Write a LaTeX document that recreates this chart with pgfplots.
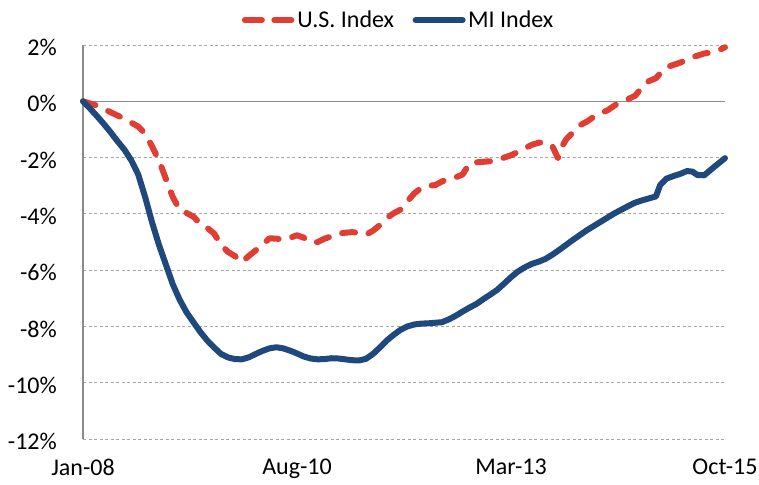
\documentclass[border=0pt]{standalone}
\usepackage{fontspec}
\setmainfont{Carlito}
\usepackage{pgfplots}
\pgfplotsset{compat=1.18}
\definecolor{usred}{RGB}{224,62,50}
\definecolor{miblue}{RGB}{31,73,125}
\definecolor{gridgray}{RGB}{166,166,166}
\definecolor{axgray}{RGB}{140,140,140}
\begin{document}
\begin{tikzpicture}[font=\fontsize{24bp}{28bp}\selectfont]
\begin{axis}[
  at={(83bp,46bp)}, anchor=south west,
  scale only axis, width=642bp, height=394bp,
  xmin=0, xmax=93, ymin=-12, ymax=2,
  clip=false,
  axis lines*=left,
  x axis line style={draw=none},
  y axis line style={draw=axgray, line width=1.3bp},
  major tick length=0pt,
  xtick={0,31,62,93},
  xticklabels={Jan-08,Aug-10,Mar-13,Oct-15},
  ytick={-12,-10,-8,-6,-4,-2,2},
  yticklabels={-12\%,-10\%,-8\%,-6\%,-4\%,-2\%,2\%},
  extra y ticks={0},
  extra y tick labels={0\%},
  extra y tick style={grid style={solid, draw=axgray, line width=1.2bp}},
  ymajorgrids,
  grid style={draw=gridgray, line width=0.9bp, dash pattern=on 3bp off 2.5bp},
  xticklabel style={anchor=north, inner sep=0pt, yshift=-20bp},
  yticklabel style={anchor=east, inner sep=0pt, xshift=-26bp, yshift=-2.5bp},
  legend columns=2,
  legend style={draw=none, fill=none, at={(0.492,1.063)}, anchor=center,
    /tikz/every even column/.append style={column sep=16bp},
    nodes={inner sep=2.5bp}},
  legend image code/.code={\draw[#1] (0bp,0bp) -- (47bp,0bp);},
]
\addplot[usred, line width=6bp, line cap=round, line join=round, dash pattern=on 13bp off 14bp,
  legend image code/.code={\draw[usred, line width=6bp, line cap=round, dash pattern=on 17bp off 12.5bp] (0bp,0bp) -- (47bp,0bp);}] coordinates {
(0,0) (2,-0.15) (4,-0.39) (6,-0.62) (8,-0.9) (9,-1.15) (10,-1.6) (11,-2.1)
(12,-2.75) (13,-3.4) (14,-3.85) (15,-3.97) (16,-4.1) (17,-4.35) (18,-4.5)
(19,-4.7) (20,-5.1) (21,-5.35) (22,-5.5) (23,-5.72) (24,-5.5) (25,-5.3)
(26,-5.1) (27,-4.87) (28,-4.88) (29,-4.92) (30,-4.85) (31,-4.76) (32,-4.85)
(33,-5.02) (34,-5.0) (35,-4.88) (36,-4.8) (37,-4.7) (38,-4.67) (39,-4.65)
(40,-4.68) (41,-4.74) (42,-4.6) (43,-4.4) (44,-4.15) (45,-3.98) (46,-3.85)
(47,-3.55) (48,-3.27) (49,-3.08) (50,-3.0) (51,-2.98) (52,-2.85) (53,-2.74)
(54,-2.7) (55,-2.6) (56,-2.2) (57,-2.17) (58,-2.15) (59,-2.13) (60,-2.1)
(61,-2.0) (62,-1.92) (63,-1.8) (64,-1.67) (65,-1.55) (66,-1.47) (67,-1.46)
(68,-1.6) (68.8,-2.02) (69.5,-1.56) (70,-1.35) (71,-1.1) (72,-0.85) (73,-0.72)
(74,-0.55) (75,-0.42) (76,-0.32) (77,-0.15) (78,-0.02) (79,0.08) (80,0.2)
(81,0.5) (82,0.72) (83,0.82) (84,1.1) (85,1.25) (86,1.33) (87,1.42)
(88,1.55) (89,1.62) (90,1.7) (91,1.73) (92,1.8) (93,1.92)
};
\addlegendentry{U.S. Index}
\addplot[miblue, line width=6bp, line cap=round, line join=round] coordinates {
(0,0) (1,-0.25) (2,-0.52) (3,-0.8) (4,-1.1) (5,-1.42) (6,-1.72) (7,-2.1)
(8,-2.6) (9,-3.4) (10,-4.3) (11,-5.1) (12,-5.8) (13,-6.5) (14,-7.05)
(15,-7.5) (16,-7.85) (17,-8.2) (18,-8.5) (19,-8.75) (20,-8.98) (21,-9.1)
(22,-9.16) (23,-9.17) (24,-9.1) (25,-8.98) (26,-8.87) (27,-8.78) (28,-8.74)
(29,-8.78) (30,-8.86) (31,-8.96) (32,-9.07) (33,-9.14) (34,-9.17) (35,-9.16)
(36,-9.13) (37,-9.14) (38,-9.17) (39,-9.2) (40,-9.21) (41,-9.15) (42,-8.98)
(43,-8.75) (44,-8.5) (45,-8.3) (46,-8.12) (47,-8.0) (48,-7.93) (49,-7.9)
(50,-7.89) (51,-7.87) (52,-7.85) (53,-7.75) (54,-7.62) (55,-7.47) (56,-7.33)
(57,-7.2) (58,-7.03) (59,-6.87) (60,-6.7) (61,-6.48) (62,-6.25) (63,-6.05)
(64,-5.9) (65,-5.78) (66,-5.7) (67,-5.6) (68,-5.45) (69,-5.28) (70,-5.1)
(71,-4.92) (72,-4.75) (73,-4.58) (74,-4.43) (75,-4.28) (76,-4.13) (77,-3.98)
(78,-3.85) (79,-3.72) (80,-3.6) (81,-3.52) (82,-3.45) (83,-3.38) (83.6,-2.98)
(84.5,-2.75) (85.5,-2.66) (86.5,-2.58) (87.5,-2.48) (88.3,-2.5) (89,-2.62)
(90,-2.63) (91,-2.42) (92,-2.22) (93,-2.02)
};
\addlegendentry{MI Index}
\end{axis}
\pgfresetboundingbox
\path[use as bounding box] (0,0) rectangle (759bp,485bp);
\end{tikzpicture}
\end{document}
